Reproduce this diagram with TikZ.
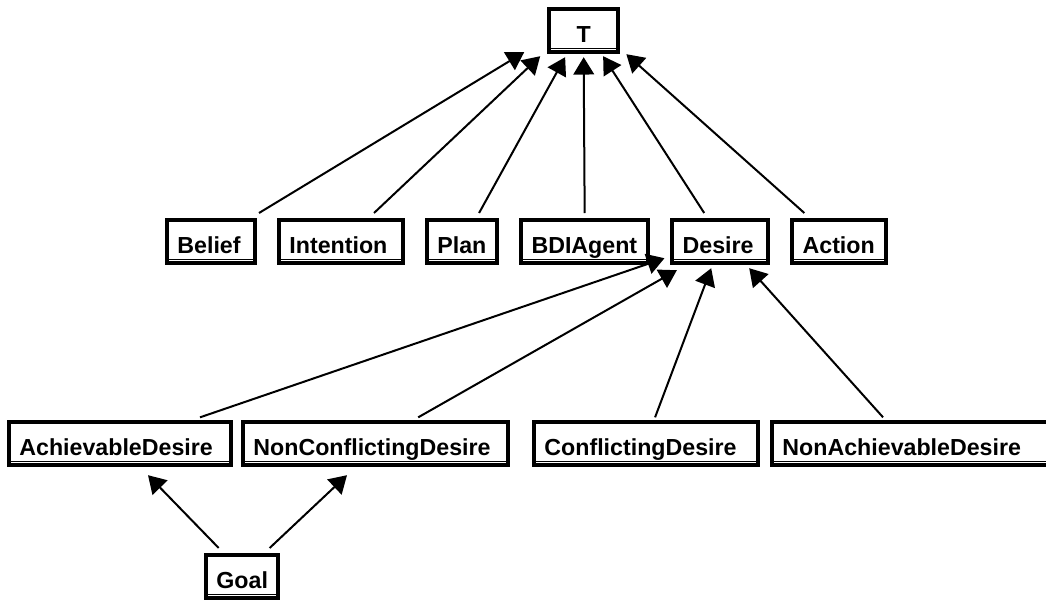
\documentclass[tikz,border=0pt]{standalone}
\usepackage{fontspec}
\newfontfamily\clsfont{Liberation Sans}
\usetikzlibrary{arrows.meta,positioning}

\begin{document}
\begin{tikzpicture}[
  x=0.75pt,y=-0.75pt,
  node distance=15pt,
  cls/.style={draw,line width=3pt,anchor=north west,align=left,
    font=\clsfont\bfseries\fontsize{17.4}{20}\selectfont,
    inner xsep=7.8pt,inner ysep=7.5pt,text height=17.4pt,text depth=0pt,minimum height=32.4pt,
    path picture={\draw[line width=0.8pt] ([yshift=3pt]path picture bounding box.south west) -- ([yshift=3pt]path picture bounding box.south east);}},
  isa/.style={-{Triangle[length=13pt,width=15.5pt]},line width=1.5pt}
]
\useasboundingbox (0,0) rectangle (1046,600);
% top
\node[cls,minimum width=52pt,align=center] (t) at (547,7) {T};
% middle row
\node[cls,text width=50.4pt] (belief) at (165,218) {Belief};
\node[cls,text width=77.4pt,right=of belief] (intention) {Intention};
\node[cls,text width=37pt,right=of intention] (plan) {Plan};
\node[cls,text width=79.7pt,right=of plan] (bdiagent) {BDIAgent};
\node[cls,text width=56.4pt,right=of bdiagent] (desire) {Desire};
\node[cls,text width=54.4pt,right=of desire] (action) {Action};
% desire kinds
\node[cls,text width=150.9pt] (achievable) at (7,420) {AchievableDesire};
\node[cls,text width=183.2pt,right=6pt of achievable] (nonconflicting) {NonConflictingDesire};
\node[cls,text width=152.4pt,right=16.5pt of nonconflicting] (conflicting) {ConflictingDesire};
\node[cls,text width=200pt,right=7.5pt of conflicting] (nonachievable) {NonAchievableDesire};
\node[cls,minimum width=52pt,align=center] (goal) at (204,553) {Goal};
% is-a links
\draw[isa] ([xshift=36pt,yshift=3.75pt]belief.north) -- ([xshift=-44.6pt,yshift=1.5pt]t.south);
\draw[isa] ([xshift=24.75pt,yshift=3.75pt]intention.north) -- ([xshift=-32.6pt,yshift=-1.5pt]t.south);
\draw[isa] ([xshift=12.75pt,yshift=3.75pt]plan.north) -- ([xshift=-13.9pt,yshift=-2.25pt]t.south);
\draw[isa] ([yshift=3.75pt]bdiagent.north) -- ([yshift=-2.25pt]t.south);
\draw[isa] ([xshift=-12pt,yshift=3.75pt]desire.north) -- ([xshift=14.6pt,yshift=-1.5pt]t.south);
\draw[isa] ([xshift=-25.9pt,yshift=3.75pt]action.north) -- ([xshift=32pt]t.south);
\draw[isa] ([xshift=60pt,yshift=2pt]achievable.north) -- ([xshift=-4.3pt,yshift=5.25pt]desire.south west);
\draw[isa] ([xshift=32pt,yshift=2pt]nonconflicting.north) -- ([xshift=5pt,yshift=-3.75pt]desire.south west);
\draw[isa] ([xshift=6.75pt,yshift=2pt]conflicting.north) -- ([xshift=-6.75pt,yshift=-2.25pt]desire.south);
\draw[isa] ([xshift=84.75pt,yshift=2pt]nonachievable.north west) -- ([xshift=21.75pt,yshift=-2.25pt]desire.south);
\draw[isa] ([xshift=-17.6pt,yshift=3.75pt]goal.north) -- ([xshift=21pt,yshift=-6pt]achievable.south);
\draw[isa] ([xshift=20.6pt,yshift=3.75pt]goal.north) -- ([xshift=-21.4pt,yshift=-6pt]nonconflicting.south);
\end{tikzpicture}
\end{document}
